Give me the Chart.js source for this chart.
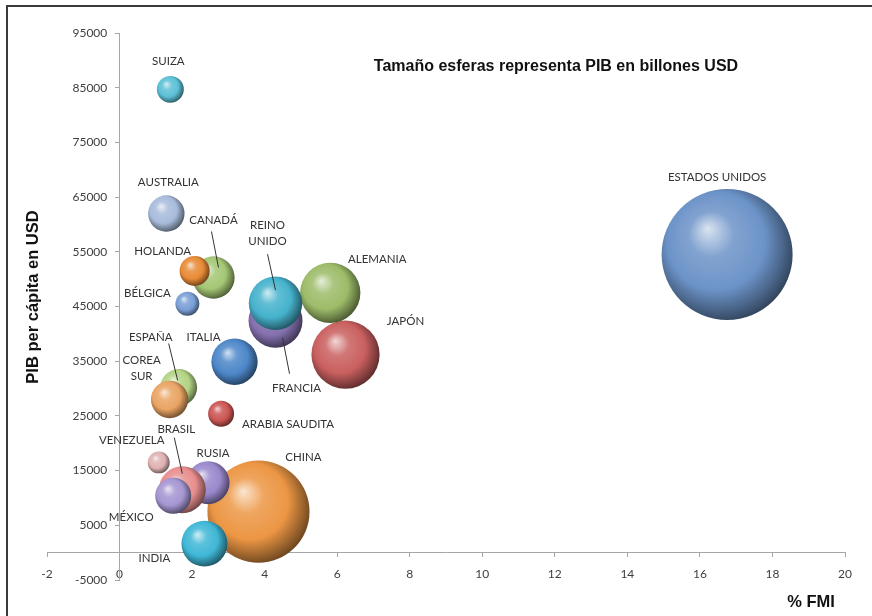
<!DOCTYPE html>
<html>
<head>
<meta charset="utf-8">
<script src="https://cdn.jsdelivr.net/npm/chart.js@4.4.1/dist/chart.umd.min.js"></script>
<style>
  html, body { margin: 0; padding: 0; background: #fff; }
  #wrap { width: 872px; height: 616px; position: relative; }
</style>
</head>
<body>
<div id="wrap"><canvas id="chart" width="872" height="616"></canvas></div>
<script>
// Countries, % FMI (x), PIB per capita (y), PIB in billones USD (bubble size)
const countries = ["SUIZA", "AUSTRALIA", "CANADÁ", "HOLANDA", "BÉLGICA", "REINO UNIDO", "FRANCIA",
  "ALEMANIA", "JAPÓN", "ITALIA", "ESPAÑA", "COREA SUR", "ARABIA SAUDITA", "VENEZUELA",
  "BRASIL", "RUSIA", "MÉXICO", "INDIA", "CHINA", "ESTADOS UNIDOS"];
const fmiShare = [1.40, 1.29, 2.59, 2.07, 1.87, 4.30, 4.30, 5.81, 6.23, 3.17, 1.63, 1.38, 2.80, 1.08,
  1.73, 2.44, 1.48, 2.34, 3.83, 16.75];
const pibPerCapita = [84700, 62000, 50300, 51500, 45500, 45600, 42400, 47500, 36200, 34900, 30200, 28000,
  25400, 16500, 11500, 12800, 10400, 1650, 7500, 54500];
const pibTotal = [0.71, 1.30, 1.75, 0.88, 0.56, 2.80, 2.85, 3.55, 4.55, 2.10, 1.33, 1.36, 0.66, 0.47,
  2.16, 1.81, 1.27, 2.07, 10.2, 16.8];
const xTicks = [-2, 0, 2, 4, 6, 8, 10, 12, 14, 16, 18, 20];
const yTicks = [-5000, 5000, 15000, 25000, 35000, 45000, 55000, 65000, 75000, 85000, 95000];

// Stacking order of the spheres, back to front
const drawOrder = ["ESTADOS UNIDOS", "CHINA", "JAPÓN", "ALEMANIA", "FRANCIA", "REINO UNIDO", "RUSIA",
  "BRASIL", "ITALIA", "INDIA", "CANADÁ", "ESPAÑA", "COREA SUR", "AUSTRALIA", "MÉXICO", "HOLANDA",
  "ARABIA SAUDITA", "SUIZA", "BÉLGICA", "VENEZUELA"];

// Styling: sphere base colours
const colors = ["#5cc0d6", "#a7bbda", "#a4c774", "#e88a36", "#7a9fd6", "#46b2cc", "#8470ae",
  "#9dbc69", "#c9605f", "#4d87c9", "#b3d383", "#e9a463", "#cc5653", "#dfb2b2",
  "#e88e8e", "#9a88cc", "#a596d2", "#3fb7d6", "#ec9644", "#6c93c8"];

// Label placement, in pixels relative to the bubble centre: [dx, dy, second line?]
const labelOffsets = [[-2, -28], [2, -31], [0, -57], [-32, -20], [-40, -10], [-8, -78, "UNIDO"],
  [21, 68], [47, -34], [60, -33], [-31, -24], [-28, -50], [-28, -39, "SUR"], [67, 11], [-27, -22],
  [-6, -60], [5, -29], [-42, 22], [-50, 15], [45, -54], [-10, -77]];
// Leader lines [x1, y1, x2, y2] relative to bubble centre
const leaders = { 2: [-2, -46, 5, -10], 5: [-8, -49, 0, -13], 6: [7, 17, 14, 53], 10: [-10, -44, -1, -7], 14: [-8, -52, 0, -16] };

const maxPib = Math.max(...pibTotal);
const MAX_R = 65.5;

function shade(hex, f) {
  const n = parseInt(hex.slice(1), 16);
  let r = (n >> 16) & 255, g = (n >> 8) & 255, b = n & 255;
  if (f >= 0) { r += (255 - r) * f; g += (255 - g) * f; b += (255 - b) * f; }
  else { r *= 1 + f; g *= 1 + f; b *= 1 + f; }
  return `rgb(${Math.round(r)},${Math.round(g)},${Math.round(b)})`;
}

// Build points in stacking order
const points = drawOrder.map(name => {
  const i = countries.indexOf(name);
  return { x: fmiShare[i], y: pibPerCapita[i], r: MAX_R * Math.sqrt(pibTotal[i] / maxPib), idx: i };
});

function sphereFill(ctx) {
  if (ctx.type !== "data" || !ctx.raw) return "#999";
  const chart = ctx.chart;
  const p = ctx.raw;
  const base = colors[p.idx];
  const cx = chart.scales.x ? chart.scales.x.getPixelForValue(p.x) : NaN;
  const cy = chart.scales.y ? chart.scales.y.getPixelForValue(p.y) : NaN;
  if (!isFinite(cx) || !isFinite(cy)) return base;
  const g = chart.ctx.createRadialGradient(cx - p.r * 0.3, cy - p.r * 0.4, 0, cx - p.r * 0.1, cy - p.r * 0.1, p.r * 1.15);
  g.addColorStop(0, shade(base, 0.75));
  g.addColorStop(0.3, shade(base, 0.15));
  g.addColorStop(0.65, base);
  g.addColorStop(0.88, shade(base, -0.35));
  g.addColorStop(1, shade(base, -0.55));
  return g;
}

// axes sit on x=0 / y=0, so they should not take space from the layout
function noSpace(scale) {
  if (scale.isHorizontal()) scale.height = 0; else scale.width = 0;
  scale.paddingLeft = scale.paddingRight = scale.paddingTop = scale.paddingBottom = 0;
}

const decorations = {
  id: "decorations",
  afterDatasetsDraw(chart) {
    const c = chart.ctx;
    const meta = chart.getDatasetMeta(0);
    c.save();
    c.fillStyle = "#333";
    c.strokeStyle = "#333";
    c.lineWidth = 1;
    c.font = "11.5px Lato, 'Open Sans', sans-serif";
    c.textAlign = "center";
    c.textBaseline = "middle";
    meta.data.forEach((el, k) => {
      const i = points[k].idx;
      const off = labelOffsets[i];
      const name = off[2] ? countries[i].split(" ")[0] : countries[i];
      c.fillText(name, el.x + off[0], el.y + off[1]);
      if (off[2]) c.fillText(off[2], el.x + off[0], el.y + off[1] + 16);
      const l = leaders[i];
      if (l) {
        c.beginPath();
        c.moveTo(el.x + l[0], el.y + l[1]);
        c.lineTo(el.x + l[2], el.y + l[3]);
        c.stroke();
      }
    });
    // titles
    c.fillStyle = "#111";
    c.font = "bold 16px 'Liberation Sans', Arial, sans-serif";
    c.fillText("Tamaño esferas representa PIB en billones USD", 556, 67);
    c.font = "bold 16.5px 'Liberation Sans', Arial, sans-serif";
    c.fillText("% FMI", 811, 602);
    c.translate(33, 297);
    c.rotate(-Math.PI / 2);
    c.fillText("PIB per cápita en USD", 0, 0);
    c.restore();
    // outer frame (top and left edges)
    c.save();
    c.strokeStyle = "#3a3a3a";
    c.lineWidth = 2;
    c.beginPath();
    c.moveTo(872, 6);
    c.lineTo(7, 6);
    c.lineTo(7, 616);
    c.stroke();
    c.restore();
  }
};

new Chart(document.getElementById("chart"), {
  type: "bubble",
  data: {
    datasets: [{
      data: points,
      backgroundColor: sphereFill,
      borderWidth: 0,
      hoverBorderWidth: 0,
      clip: false
    }]
  },
  options: {
    responsive: false,
    animation: false,
    events: [],
    layout: { autoPadding: false, padding: { left: 47, right: 27, top: 33, bottom: 36 } },
    plugins: { legend: { display: false }, tooltip: { enabled: false } },
    scales: {
      x: {
        type: "linear",
        min: -2, max: 20,
        position: { y: 0 },
        afterBuildTicks: axis => { axis.ticks = xTicks.map(v => ({ value: v })); },
        afterFit: noSpace,
        grid: { drawOnChartArea: false, drawTicks: true, tickLength: 4, color: "#a6a6a6" },
        border: { display: true, color: "#a6a6a6", width: 1 },
        ticks: { autoSkip: false, maxRotation: 0, padding: 10, color: "#404040",
          callback: v => String(v),
          font: { family: "Lato, 'Open Sans', sans-serif", size: 12 } }
      },
      y: {
        type: "linear",
        min: -5000, max: 95000,
        position: { x: 0 },
        afterBuildTicks: axis => { axis.ticks = yTicks.map(v => ({ value: v })); },
        afterFit: noSpace,
        grid: { drawOnChartArea: false, drawTicks: true, tickLength: 4, color: "#a6a6a6" },
        border: { display: true, color: "#a6a6a6", width: 1 },
        ticks: { autoSkip: false, color: "#404040",
          // labels are right-aligned on the axis line, trailing spaces give the gap
          callback: v => String(v) + "    ",
          font: { family: "Lato, 'Open Sans', sans-serif", size: 12 } }
      }
    }
  },
  plugins: [decorations]
});
</script>
</body>
</html>
